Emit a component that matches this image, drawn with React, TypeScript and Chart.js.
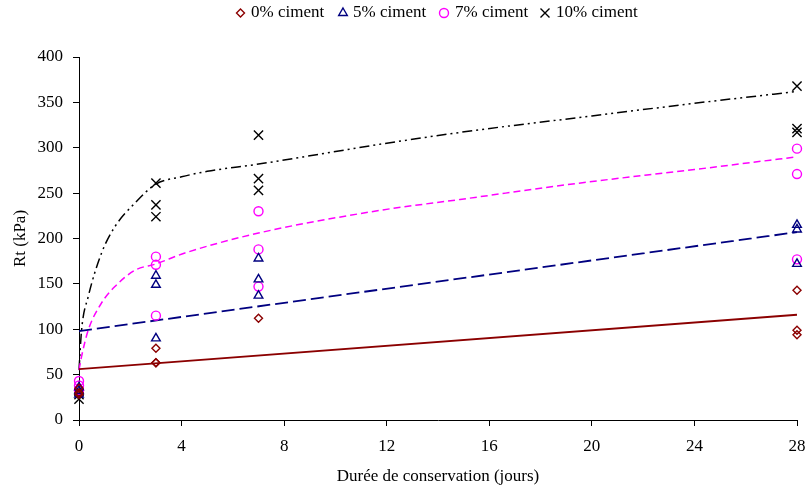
import React, { useEffect, useRef } from "react";
import { Chart, registerables } from "chart.js";

Chart.register(...registerables);

// ---- data ----
const seriesLabels = ["0% ciment", "5% ciment", "7% ciment", "10% ciment"];

const ciment0Days = [0, 0, 0, 3, 3, 3, 7, 28, 28, 28];
const ciment0Rt = [35, 30, 28, 79, 63, 63, 112, 143, 99, 94];

const ciment5Days = [0, 0, 0, 3, 3, 3, 7, 7, 7, 28, 28, 28];
const ciment5Rt = [36, 32, 28, 159, 149, 90, 178, 155, 137, 215, 210, 172];

const ciment7Days = [0, 0, 0, 3, 3, 3, 7, 7, 7, 28, 28, 28];
const ciment7Rt = [43, 38, 33, 180, 171, 115, 230, 188, 147, 299, 271, 177];

const ciment10Days = [0, 0, 0, 3, 3, 3, 7, 7, 7, 28, 28, 28];
const ciment10Rt = [32, 28, 23, 261, 237, 224, 314, 266, 253, 368, 321, 317];

// trend curves
const trend0Days = [0, 28];
const trend0Rt = [56, 116];

const trend5Days = [0, 28];
const trend5Rt = [98, 207];

const trend7Days = [0, 0.1, 0.36, 0.88, 1.4, 2.18, 3, 4.13, 7, 11.74, 14.86, 19.5, 24, 28];
const trend7Rt = [55, 70, 99, 129, 147, 165, 172, 184, 206, 231, 243, 261, 276, 290];

const trend10Days = [0, 0.1, 0.36, 0.88, 1.4, 2.18, 3, 4, 5, 7, 12, 15.4, 20, 24, 28];
const trend10Rt = [55, 99, 136, 184, 213, 239, 260, 268, 274, 282, 305, 319, 335, 349, 362];

const xTicks = [0, 4, 8, 12, 16, 20, 24, 28];
const yTicks = [0, 50, 100, 150, 200, 250, 300, 350, 400];

const xTitle = "Durée de conservation (jours)";
const yTitle = "Rt (kPa)";

// ---- styles ----
const RED = "#8B0000";
const NAVY = "#000080";
const MAGENTA = "#FF00FF";
const BLACK = "#000000";
const FONT = '"Liberation Serif", "Times New Roman", serif';

const zip = (xs: number[], ys: number[]) => xs.map((x, i) => ({ x, y: ys[i] }));

function drawMarker(ctx: CanvasRenderingContext2D, style: string, x: number, y: number, color: string) {
  ctx.save();
  ctx.strokeStyle = color;
  ctx.lineWidth = 1.4;
  ctx.beginPath();
  if (style === "rectRot") {
    const r = 4;
    ctx.moveTo(x, y - r);
    ctx.lineTo(x + r, y);
    ctx.lineTo(x, y + r);
    ctx.lineTo(x - r, y);
    ctx.closePath();
  } else if (style === "triangle") {
    const r = 5;
    ctx.moveTo(x, y - r);
    ctx.lineTo(x + r * 0.866, y + r * 0.5);
    ctx.lineTo(x - r * 0.866, y + r * 0.5);
    ctx.closePath();
  } else if (style === "circle") {
    ctx.arc(x, y, 4.5, 0, Math.PI * 2);
  } else {
    const r = 4.5;
    ctx.moveTo(x - r, y - r);
    ctx.lineTo(x + r, y + r);
    ctx.moveTo(x + r, y - r);
    ctx.lineTo(x - r, y + r);
  }
  ctx.stroke();
  ctx.restore();
}

const legendItems = [
  { style: "rectRot", color: RED, mx: 240.5, tx: 251 },
  { style: "triangle", color: NAVY, mx: 343, tx: 353 },
  { style: "circle", color: MAGENTA, mx: 444, tx: 455 },
  { style: "crossRot", color: BLACK, mx: 545, tx: 556 },
];

const legendPlugin = {
  id: "customLegend",
  afterDraw(chart: any) {
    const ctx = chart.ctx as CanvasRenderingContext2D;
    ctx.save();
    ctx.font = `17px ${FONT}`;
    ctx.fillStyle = "#000";
    ctx.textBaseline = "middle";
    ctx.textAlign = "left";
    legendItems.forEach((it, i) => {
      drawMarker(ctx, it.style, it.mx, 13, it.color);
      ctx.fillText(seriesLabels[i], it.tx, 13);
    });
    ctx.restore();
  },
};

export default function App() {
  const ref = useRef<HTMLCanvasElement | null>(null);

  useEffect(() => {
    if (!ref.current) return;
    const pointDs = (label: string, xs: number[], ys: number[], style: string, color: string, radius: number) => ({
      label,
      data: zip(xs, ys),
      showLine: false,
      pointStyle: style,
      pointRadius: radius,
      pointBorderColor: color,
      pointBackgroundColor: "rgba(0,0,0,0)",
      pointBorderWidth: 1.4,
      borderColor: color,
      backgroundColor: "rgba(0,0,0,0)",
      clip: false as any,
      order: 1,
    });
    const lineDs = (label: string, xs: number[], ys: number[], color: string, width: number, dash: number[]) => ({
      label,
      data: zip(xs, ys),
      showLine: true,
      pointRadius: 0,
      borderColor: color,
      backgroundColor: color,
      borderWidth: width,
      borderDash: dash,
      cubicInterpolationMode: "monotone",
      fill: false,
      clip: false as any,
      order: 2,
    });

    const chart = new Chart(ref.current, {
      type: "scatter",
      data: {
        datasets: [
          lineDs("trend 0%", trend0Days, trend0Rt, RED, 1.8, []),
          lineDs("trend 5%", trend5Days, trend5Rt, NAVY, 1.8, [13, 5]),
          lineDs("trend 7%", trend7Days, trend7Rt, MAGENTA, 1.5, [7, 4]),
          lineDs("trend 10%", trend10Days, trend10Rt, BLACK, 1.5, [10, 4, 2, 4, 2, 4]),
          pointDs(seriesLabels[0], ciment0Days, ciment0Rt, "rectRot", RED, 4),
          pointDs(seriesLabels[1], ciment5Days, ciment5Rt, "triangle", NAVY, 5),
          pointDs(seriesLabels[2], ciment7Days, ciment7Rt, "circle", MAGENTA, 4.5),
          pointDs(seriesLabels[3], ciment10Days, ciment10Rt, "crossRot", BLACK, 6.5),
        ] as any,
      },
      options: {
        responsive: false,
        animation: false,
        devicePixelRatio: 1,
        layout: { padding: { top: 57, right: 12, left: 0, bottom: 0 } },
        plugins: {
          legend: { display: false },
          tooltip: { enabled: false },
        },
        scales: {
          x: {
            type: "linear",
            min: 0,
            max: 28,
            afterBuildTicks: (s: any) => {
              s.ticks = xTicks.map((v) => ({ value: v }));
            },
            ticks: {
              color: "#000",
              font: { family: FONT, size: 17 },
              padding: 10,
              maxRotation: 0,
            },
            grid: {
              display: true,
              drawOnChartArea: false,
              drawTicks: true,
              tickLength: 6,
              tickColor: "#000",
            },
            border: { display: true, color: "#000", width: 1 },
            title: {
              display: true,
              text: xTitle,
              color: "#000",
              font: { family: FONT, size: 17 },
              padding: { top: 0, bottom: 4 },
            },
            afterFit: (s: any) => {
              s.height = 71;
              s.paddingRight = 0;
              s.paddingLeft = 0;
            },
          },
          y: {
            type: "linear",
            min: 0,
            max: 400,
            afterBuildTicks: (s: any) => {
              s.ticks = yTicks.map((v) => ({ value: v }));
            },
            ticks: {
              color: "#000",
              font: { family: FONT, size: 17 },
              padding: 10,
            },
            grid: {
              display: true,
              drawOnChartArea: false,
              drawTicks: true,
              tickLength: 6,
              tickColor: "#000",
            },
            border: { display: true, color: "#000", width: 1 },
            title: {
              display: true,
              text: yTitle,
              color: "#000",
              font: { family: FONT, size: 17 },
              padding: { top: 10, bottom: 0 },
            },
            afterFit: (s: any) => {
              s.width = 79;
            },
          },
        },
      } as any,
      plugins: [legendPlugin],
    });
    return () => chart.destroy();
  }, []);

  return (
    <div style={{ position: "absolute", left: 0, top: 0, width: 809, height: 491, background: "#fff" }}>
      <canvas ref={ref} width={809} height={491} style={{ display: "block", width: 809, height: 491 }} />
    </div>
  );
}
